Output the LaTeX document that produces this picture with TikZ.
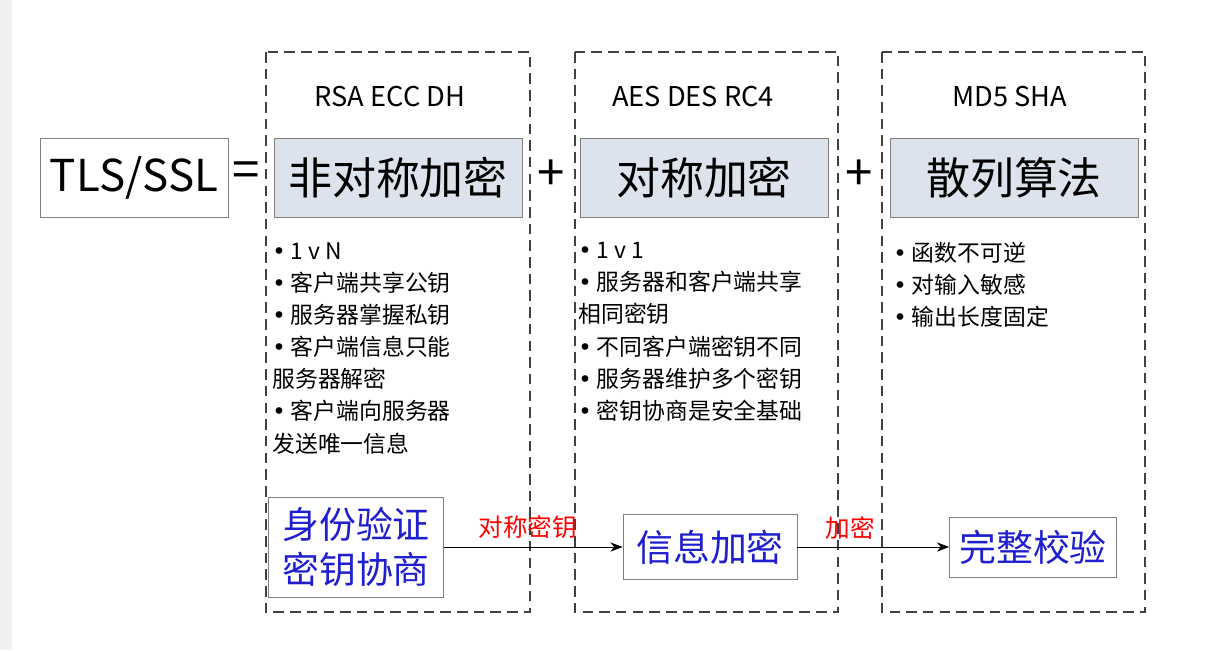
\documentclass[tikz,border=0pt]{standalone}
\usepackage{fontspec}
\setmainfont{Noto Sans CJK SC}
\newfontfamily\dotfont{DejaVu Sans}
\usetikzlibrary{positioning,arrows.meta}
\definecolor{panelgray}{HTML}{DDE3EC}
\definecolor{bordergray}{HTML}{7F7F7F}
\definecolor{linkblue}{HTML}{1F1FD0}
\newcommand{\bul}{{\dotfont •}}

\begin{document}
\begin{tikzpicture}[x=0.02cm, y=-0.02cm,
    group/.style={draw, dash pattern=on 6pt off 3.5pt, thick, black!75},
    headbox/.style={draw=bordergray, fill=panelgray, minimum width=4.96cm, minimum height=1.58cm, font=\fontsize{25}{28}\selectfont},
    title/.style={font=\fontsize{15.5}{18}\selectfont},
    bullets/.style={anchor=north west, align=left, inner sep=0pt, font=\fontsize{13}{18.3}\selectfont},
    stepbox/.style={draw=bordergray, fill=white, text=linkblue, align=center, font=\fontsize{21}{26}\selectfont},
    keylabel/.style={text=red, font=\fontsize{14}{16}\selectfont}]
    \useasboundingbox (0,0) rectangle (1230,650);
    \fill[black!6] (0,0) rectangle (12,650);

    % dashed groups
    \draw[group] (266,52) rectangle (530,612);
    \draw[group] (575,52) rectangle (838,612);
    \draw[group] (882,52) rectangle (1145,612);

    % headline row
    \node[draw=bordergray, minimum width=3.76cm, minimum height=1.58cm, font=\fontsize{25}{28}\selectfont] (tls) at (134,178) {TLS/SSL};
    \node[font=\fontsize{28}{30}\selectfont] (eq) at (246,175) {=};
    \node[headbox] (asym) at (398,178) {非对称加密};
    \node[font=\fontsize{28}{30}\selectfont] (plus1) at (551,175) {+};
    \node[headbox] (sym) at (704,178) {对称加密};
    \node[font=\fontsize{28}{30}\selectfont] (plus2) at (859,175) {+};
    \node[headbox] (hash) at (1014,178) {散列算法};

    \node[title] (asymalg) at (390,97) {RSA ECC DH};
    \node[title] (symalg) at (693,97) {AES DES RC4};
    \node[title] (hashalg) at (1010,97) {MD5 SHA};

    % bullet lists
    \node[bullets] (asymlist) at (272,242) {\bul\ 1 v N\\\bul\ 客户端共享公钥\\\bul\ 服务器掌握私钥\\\bul\ 客户端信息只能\\服务器解密\\\bul\ 客户端向服务器\\发送唯一信息};
    \node[bullets] (symlist) at (578,242) {\bul\ 1 v 1\\\bul\ 服务器和客户端共享\\相同密钥\\\bul\ 不同客户端密钥不同\\\bul\ 服务器维护多个密钥\\\bul\ 密钥协商是安全基础};
    \node[bullets] (hashlist) at (893,242) {\bul\ 函数不可逆\\\bul\ 对输入敏感\\\bul\ 输出长度固定};

    % bottom chain
    \node[stepbox, minimum width=3.5cm, minimum height=2cm] (auth) at (356,547) {身份验证\\密钥协商};
    \node[stepbox, minimum width=3.48cm, minimum height=1.3cm] (enc) at (710,547) {信息加密};
    \node[stepbox, minimum width=3.34cm, minimum height=1.2cm] (check) at (1033,547) {完整校验};

    \draw[-{Stealth[length=7pt]}] (auth) -- node[keylabel, above=1pt, pos=0.47] {对称密钥} (enc);
    \draw[-{Stealth[length=7pt]}] (enc) -- node[keylabel, above=1pt, pos=0.35] {加密} (check);
\end{tikzpicture}
\end{document}
